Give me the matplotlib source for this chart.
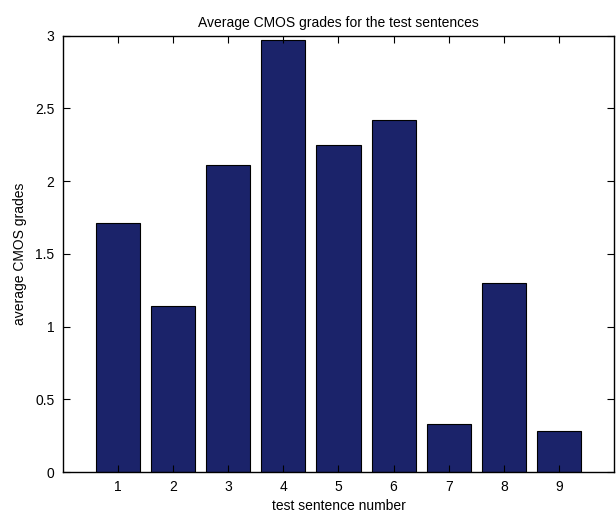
import numpy as np
import matplotlib
matplotlib.use('Agg')
from matplotlib import pyplot as plt

plt.rcParams['font.family'] = ['Liberation Sans', 'DejaVu Sans']

# Datos
sentences = [1, 2, 3, 4, 5, 6, 7, 8, 9]
grades = [1.71, 1.14, 2.11, 2.97, 2.25, 2.42, 0.33, 1.30, 0.28]
y_ticks = [0, 0.5, 1, 1.5, 2, 2.5, 3]
y_labels = ['0', '0.5', '1', '1.5', '2', '2.5', '3']

fig = plt.figure(figsize=(6.16, 5.2), dpi=100)
ax = fig.add_axes([0.102, 0.0923, 0.895, 0.8390])

ax.bar(sentences, grades, width=0.8, color='#1b236a', edgecolor='black', linewidth=0.8)

ax.set_xlim(0, 10)
ax.set_ylim(0, 3)
ax.set_xticks(sentences)
ax.set_yticks(y_ticks)
ax.set_yticklabels(y_labels)
ax.tick_params(direction='in', top=True, right=True, labelsize=10, length=5, width=0.8, pad=6)
for s in ax.spines.values():
    s.set_linewidth(1.0)

ax.set_title('Average CMOS grades for the test sentences', fontsize=10, pad=6)
ax.set_xlabel('test sentence number', fontsize=10, labelpad=3)
ax.set_ylabel('average CMOS grades', fontsize=10, labelpad=6)

fig.savefig('out.png', dpi=100)
